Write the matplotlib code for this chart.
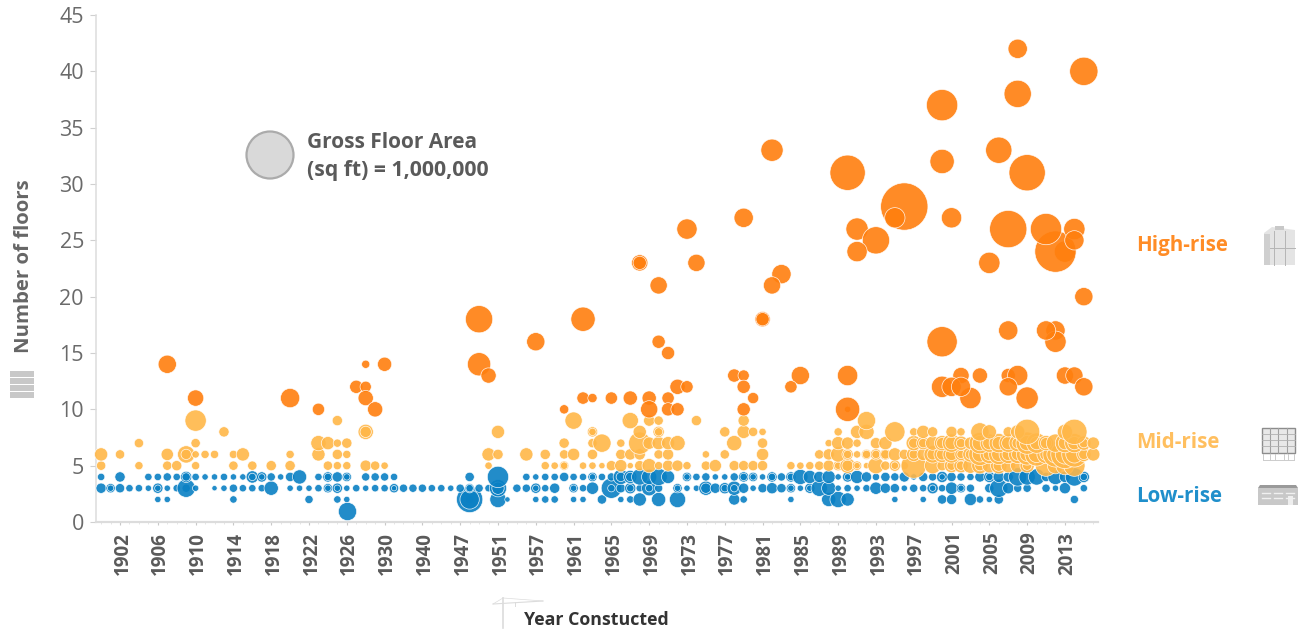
import numpy as np
import matplotlib
matplotlib.use("Agg")
import matplotlib.pyplot as plt
from matplotlib.patches import Rectangle, Circle, Polygon
from matplotlib.transforms import ScaledTranslation

plt.rcParams['font.family'] = ['Open Sans', 'DejaVu Sans']

# year categories on the x axis (only years that have buildings)
YEARS = list(range(1900, 1933)) + [1936, 1940, 1941, 1942, 1946, 1947, 1948, 1949, 1950, 1951,
                                   1952, 1954, 1956, 1957, 1958, 1959, 1960] + list(range(1961, 2017))
YEAR_LABELS = YEARS[2::4]
Y_TICKS = list(range(0, 50, 5))
LEGEND_GFA = 1000  # thousand sq ft

# low-rise, one pair of lists per floor count. gfa in thousand sq ft
LOW_1_YEAR = [1926]
LOW_1_GFA = [125]
LOW_2_YEAR = [1906, 1907, 1914, 1922, 1925, 1926, 1948, 1948, 1948, 1951, 1952, 1957, 1958, 1959, 1961, 1962,
              1964, 1966, 1967, 1968, 1970, 1972, 1978, 1979, 1984, 1988, 1989, 1990, 1995, 1998, 2000, 2001,
              2003, 2004, 2005, 2006, 2014]
LOW_2_GFA = [11, 11, 16, 21, 16, 11, 21, 271, 141, 98, 7, 11, 16, 16, 11, 11,
             28, 11, 16, 62, 73, 98, 43, 16, 11, 73, 98, 62, 11, 11, 28, 35,
             53, 16, 11, 28, 21]
LOW_3_YEAR = [1900, 1901, 1901, 1902, 1903, 1904, 1905, 1906, 1906, 1907, 1908, 1909, 1909, 1910, 1912, 1913,
              1914, 1915, 1916, 1917, 1918, 1920, 1921, 1922, 1923, 1924, 1924, 1925, 1925, 1926, 1927, 1928,
              1929, 1930, 1931, 1931, 1932, 1936, 1940, 1941, 1942, 1946, 1947, 1948, 1948, 1949, 1950, 1951,
              1951, 1954, 1956, 1957, 1957, 1958, 1959, 1961, 1961, 1962, 1963, 1965, 1965, 1966, 1967, 1967,
              1968, 1969, 1969, 1970, 1972, 1972, 1973, 1974, 1975, 1975, 1976, 1977, 1977, 1978, 1978, 1979,
              1980, 1981, 1982, 1983, 1984, 1984, 1985, 1986, 1986, 1987, 1988, 1989, 1990, 1991, 1992, 1993,
              1994, 1995, 1996, 1997, 1998, 1999, 1999, 2000, 2001, 2002, 2002, 2003, 2005, 2006, 2007, 2008,
              2009, 2011, 2012, 2013, 2015]
LOW_3_GFA = [35, 28, 11, 28, 16, 16, 11, 35, 11, 11, 16, 21, 125, 11, 7, 11,
             21, 16, 16, 16, 73, 11, 11, 11, 16, 28, 11, 35, 11, 11, 16, 11,
             16, 16, 28, 7, 21, 21, 21, 16, 16, 11, 21, 28, 16, 21, 16, 111,
             53, 21, 21, 35, 11, 16, 35, 28, 11, 16, 53, 157, 16, 28, 43, 16,
             16, 85, 16, 21, 28, 11, 11, 11, 73, 35, 35, 43, 16, 73, 16, 35,
             11, 28, 43, 28, 28, 11, 11, 35, 11, 98, 73, 11, 16, 11, 16, 53,
             35, 28, 11, 21, 16, 43, 11, 16, 53, 28, 11, 21, 28, 125, 43, 21,
             21, 21, 11, 43, 16]
LOW_4_YEAR = [1900, 1902, 1905, 1906, 1907, 1908, 1909, 1909, 1910, 1911, 1912, 1913, 1914, 1915, 1916, 1916,
              1917, 1917, 1918, 1919, 1920, 1921, 1923, 1924, 1924, 1925, 1926, 1926, 1928, 1929, 1930, 1931,
              1948, 1951, 1956, 1957, 1958, 1959, 1960, 1961, 1962, 1963, 1963, 1964, 1965, 1966, 1966, 1967,
              1967, 1968, 1969, 1970, 1971, 1973, 1973, 1974, 1975, 1976, 1977, 1978, 1979, 1979, 1980, 1980,
              1981, 1982, 1982, 1983, 1984, 1984, 1985, 1986, 1987, 1988, 1989, 1990, 1990, 1991, 1992, 1993,
              1994, 1995, 1996, 1997, 1998, 1999, 2000, 2000, 2001, 2002, 2003, 2004, 2005, 2005, 2006, 2007,
              2008, 2009, 2010, 2011, 2012, 2013, 2014, 2015, 2015]
LOW_4_GFA = [16, 35, 16, 16, 21, 16, 43, 21, 16, 11, 11, 16, 11, 11, 53, 16,
             35, 11, 21, 11, 28, 73, 16, 35, 16, 35, 28, 11, 21, 21, 21, 16,
             28, 174, 16, 11, 16, 16, 28, 16, 16, 28, 11, 16, 21, 85, 28, 62,
             28, 98, 85, 111, 62, 28, 11, 16, 21, 11, 11, 21, 35, 16, 28, 11,
             11, 35, 16, 21, 35, 16, 85, 62, 43, 62, 11, 35, 11, 62, 35, 16,
             28, 21, 35, 11, 28, 21, 43, 11, 28, 21, 16, 35, 43, 16, 43, 35,
             125, 98, 98, 28, 85, 43, 125, 43, 16]

# mid-rise
MID_5_YEAR = [1900, 1904, 1907, 1908, 1910, 1914, 1916, 1918, 1920, 1924, 1925, 1926, 1928, 1929, 1930, 1950,
              1958, 1959, 1960, 1960, 1962, 1963, 1964, 1965, 1966, 1967, 1968, 1969, 1970, 1971, 1972, 1973,
              1975, 1976, 1978, 1979, 1980, 1981, 1984, 1985, 1986, 1987, 1988, 1989, 1989, 1990, 1990, 1991,
              1991, 1992, 1993, 1994, 1995, 1995, 1996, 1997, 1999, 2000, 2001, 2001, 2002, 2002, 2003, 2004,
              2004, 2005, 2006, 2006, 2007, 2008, 2009, 2009, 2011, 2012, 2013, 2014]
MID_5_GFA = [28, 21, 28, 35, 21, 28, 28, 35, 35, 28, 21, 21, 43, 28, 16, 16,
             21, 16, 28, 16, 16, 16, 11, 35, 53, 11, 35, 73, 21, 43, 43, 21,
             28, 53, 35, 35, 35, 35, 21, 16, 21, 28, 43, 35, 16, 85, 43, 28,
             11, 11, 98, 28, 43, 16, 21, 250, 98, 35, 73, 28, 73, 28, 85, 98,
             35, 73, 98, 43, 73, 73, 73, 28, 174, 98, 125, 174]
MID_6_YEAR = [1900, 1902, 1907, 1909, 1909, 1910, 1911, 1912, 1914, 1915, 1920, 1923, 1925, 1926, 1950, 1951,
              1956, 1958, 1960, 1961, 1963, 1966, 1967, 1968, 1970, 1971, 1975, 1977, 1981, 1987, 1988, 1989,
              1990, 1990, 1991, 1992, 1992, 1993, 1993, 1994, 1994, 1995, 1996, 1997, 1997, 1998, 1999, 1999,
              2000, 2000, 2001, 2001, 2002, 2002, 2003, 2003, 2004, 2004, 2005, 2005, 2006, 2006, 2007, 2007,
              2008, 2008, 2009, 2009, 2010, 2010, 2011, 2011, 2012, 2012, 2013, 2013, 2014, 2014, 2015, 2015,
              2016]
MID_6_GFA = [62, 28, 53, 111, 35, 16, 21, 21, 21, 62, 21, 62, 35, 21, 62, 35,
             62, 35, 28, 53, 35, 35, 43, 43, 28, 43, 16, 28, 53, 28, 43, 85,
             43, 21, 16, 35, 21, 43, 21, 43, 28, 62, 35, 73, 28, 53, 111, 43,
             98, 43, 111, 53, 53, 21, 85, 35, 191, 85, 125, 53, 157, 73, 125, 53,
             125, 53, 174, 73, 210, 98, 125, 53, 250, 111, 316, 141, 250, 111, 73, 35,
             62]
MID_7_YEAR = [1904, 1910, 1923, 1924, 1925, 1926, 1960, 1963, 1964, 1966, 1968, 1969, 1970, 1971, 1972, 1978,
              1981, 1988, 1989, 1990, 1991, 1993, 1994, 1997, 1997, 1998, 1998, 1999, 2000, 2000, 2001, 2001,
              2002, 2002, 2003, 2004, 2004, 2005, 2005, 2006, 2006, 2007, 2007, 2008, 2008, 2009, 2009, 2010,
              2010, 2011, 2011, 2012, 2013, 2013, 2014, 2014, 2015, 2015, 2016]
MID_7_GFA = [28, 28, 85, 62, 21, 35, 35, 28, 125, 21, 191, 53, 62, 62, 85, 85,
             35, 16, 62, 53, 21, 43, 62, 85, 35, 62, 28, 73, 85, 43, 125, 62,
             73, 28, 53, 174, 85, 125, 62, 141, 62, 125, 62, 111, 43, 191, 85, 157,
             62, 85, 43, 125, 141, 62, 141, 62, 73, 28, 53]
MID_8_YEAR = [1913, 1928, 1928, 1951, 1963, 1963, 1968, 1970, 1970, 1977, 1979, 1980, 1981, 1989, 1991, 1992,
              1995, 1997, 1998, 1999, 2001, 2002, 2004, 2005, 2007, 2008, 2009, 2013, 2014]
MID_8_GFA = [35, 85, 43, 62, 35, 16, 62, 43, 21, 35, 62, 28, 16, 21, 62, 85,
             157, 21, 62, 35, 43, 21, 125, 73, 35, 73, 250, 85, 250]
MID_9_YEAR = [1910, 1925, 1961, 1967, 1969, 1970, 1974, 1979, 1992]
MID_9_GFA = [174, 35, 111, 98, 43, 28, 35, 43, 125]

# high-rise
HIGH_YEAR = [1907, 1910, 1920, 1923, 1927, 1928, 1928, 1929, 1928, 1930, 1949, 1949, 1950, 1957, 1962, 1960,
             1962, 1963, 1965, 1967, 1969, 1969, 1971, 1971, 1972, 1972, 1973, 1982, 1979, 1973, 1974, 1968,
             1968, 1970, 1983, 1982, 1981, 1981, 1970, 1971, 1978, 1979, 1979, 1980, 1979, 1985, 1984, 2008,
             2015, 2008, 2000, 2006, 2000, 2009, 1990, 1996, 1995, 2001, 1991, 1993, 1991, 2007, 2013, 2012,
             2011, 2014, 2014, 2005, 2015, 2007, 2012, 2012, 2011, 2000, 1990, 1990, 1990, 2003, 2002, 2004,
             2000, 2001, 2002, 2007, 2008, 2007, 2009, 2013, 2014, 2015]
HIGH_FLOORS = [14, 11, 11, 10, 12, 12, 11, 10, 14, 14, 18, 14, 13, 16, 18, 10,
               11, 11, 11, 11, 11, 10, 11, 10, 10, 12, 12, 33, 27, 26, 23, 23,
               23, 21, 22, 21, 18, 18, 16, 15, 13, 13, 12, 11, 10, 13, 12, 42,
               40, 38, 37, 33, 32, 31, 31, 28, 27, 27, 26, 25, 24, 26, 24, 24,
               26, 26, 25, 23, 20, 17, 17, 16, 17, 16, 13, 10, 10, 11, 13, 13,
               12, 12, 12, 13, 13, 12, 11, 13, 13, 12]
HIGH_GFA = [125, 98, 141, 53, 62, 43, 85, 85, 21, 73, 293, 210, 85, 125, 230, 28,
            53, 28, 53, 73, 73, 111, 53, 62, 62, 85, 53, 191, 141, 157, 111, 98,
            62, 111, 141, 111, 85, 62, 62, 62, 62, 43, 62, 43, 62, 125, 53, 141,
            316, 293, 391, 271, 230, 532, 502, 918, 157, 157, 191, 293, 157, 562, 174, 694,
            391, 174, 141, 174, 125, 141, 141, 174, 141, 365, 157, 11, 230, 174, 98, 85,
            174, 141, 141, 73, 157, 125, 191, 111, 111, 125]

CLASS_COLORS = {"low": "#0a80c4", "mid": "#ffb748", "high": "#ff7f0e"}

fig = plt.figure(figsize=(13.02, 6.32), dpi=100)
fig.patch.set_facecolor("white")

# axes box in pixels: left 96.4, right 1098, top 15, bottom 522
ax = fig.add_axes([96.4 / 1302, (632 - 522) / 632, (1098 - 96.4) / 1302, (522 - 15) / 632])


def gfa_to_s(gfa):
    # area scale: 1,000,000 sq ft is a 48 px circle, plus a bit for the white edge
    d_px = 48 * np.sqrt(np.asarray(gfa) / LEGEND_GFA) + 1.3
    return (d_px * 0.72) ** 2


def draw(years, floors, gfa, color):
    xs = [YEARS.index(y) for y in years]
    ax.scatter(xs, floors, s=gfa_to_s(gfa), color=color, alpha=0.9,
               edgecolors="white", linewidths=0.5, clip_on=False, zorder=3)


draw(LOW_1_YEAR, [1] * len(LOW_1_YEAR), LOW_1_GFA, CLASS_COLORS["low"])
draw(LOW_2_YEAR, [2] * len(LOW_2_YEAR), LOW_2_GFA, CLASS_COLORS["low"])
draw(LOW_3_YEAR, [3] * len(LOW_3_YEAR), LOW_3_GFA, CLASS_COLORS["low"])
draw(LOW_4_YEAR, [4] * len(LOW_4_YEAR), LOW_4_GFA, CLASS_COLORS["low"])
draw(MID_5_YEAR, [5] * len(MID_5_YEAR), MID_5_GFA, CLASS_COLORS["mid"])
draw(MID_6_YEAR, [6] * len(MID_6_YEAR), MID_6_GFA, CLASS_COLORS["mid"])
draw(MID_7_YEAR, [7] * len(MID_7_YEAR), MID_7_GFA, CLASS_COLORS["mid"])
draw(MID_8_YEAR, [8] * len(MID_8_YEAR), MID_8_GFA, CLASS_COLORS["mid"])
draw(MID_9_YEAR, [9] * len(MID_9_YEAR), MID_9_GFA, CLASS_COLORS["mid"])
draw(HIGH_YEAR, HIGH_FLOORS, HIGH_GFA, CLASS_COLORS["high"])

ax.set_xlim(-0.5, len(YEARS) - 0.5)
ax.set_ylim(0, 45)
for side in ("top", "right"):
    ax.spines[side].set_visible(False)
ax.spines["left"].set_color("#dcdcdc")
ax.spines["left"].set_linewidth(1.1)
ax.spines["bottom"].set_color("#dcdcdc")
ax.spines["bottom"].set_linewidth(1.6)

ax.set_yticks(Y_TICKS)
ax.tick_params(axis="y", length=4, width=0.8, color="#d0d0d0", labelsize=15.5, labelcolor="#6a6a6a", pad=5)
ax.set_xticks([YEARS.index(y) for y in YEAR_LABELS])
ax.set_xticklabels(YEAR_LABELS, rotation=90, fontweight="bold")
ax.set_xticks(range(len(YEARS)), minor=True)
ax.tick_params(axis="x", which="major", length=2.5, width=0.8, color="#c8c8c8",
               labelsize=13.5, labelcolor="#5a5a5a", pad=4.5)
ax.tick_params(axis="x", which="minor", length=1.5, width=0.6, color="#e2e2e2")
# labels sit a little right of their tick
offset = ScaledTranslation(2.5 / 100, 0, fig.dpi_scale_trans)
for lab in ax.get_xticklabels():
    lab.set_transform(lab.get_transform() + offset)

# overlay in pixel coordinates for annotations and icons
ov = fig.add_axes([0, 0, 1, 1], facecolor="none", zorder=5)
ov.set_xlim(0, 1302)
ov.set_ylim(632, 0)
ov.axis("off")

ov.text(24, 266, "Number of floors", rotation=90, ha="center", va="center",
        fontsize=14.7, fontweight="bold", color="#666666")
for y0 in (371, 378, 385, 392):
    ov.add_patch(Rectangle((10, y0), 24, 6, facecolor="#c8c8c8", edgecolor="none"))

# size legend
ov.add_patch(Circle((270, 155), 23.5, facecolor="#d9d9d9", edgecolor="#ababab", linewidth=1.6))
ov.text(307, 143, "Gross Floor Area", ha="left", va="center", fontsize=15, fontweight="bold", color="#5a5a5a")
ov.text(307, 170.5, "(sq ft) = 1,000,000", ha="left", va="center", fontsize=15.3, fontweight="bold", color="#5a5a5a")

# class labels
ov.text(1136, 245, "High-rise", ha="left", va="center", fontsize=14.8, fontweight="bold", color="#ff8c26")
ov.text(1136, 443, "Mid-rise", ha="left", va="center", fontsize=14.8, fontweight="bold", color="#ffbf5f")
ov.text(1136, 496, "Low-rise", ha="left", va="center", fontsize=14.8, fontweight="bold", color="#1f8fcb")

ov.text(524, 620, "Year Constucted", ha="left", va="center", fontsize=12.8, fontweight="bold", color="#333333")

# high-rise icon
ov.add_patch(Polygon([(1264, 233), (1272, 227), (1295, 230), (1295, 265), (1264, 265)],
                     facecolor="#e4e4e4", edgecolor="none"))
ov.add_patch(Rectangle((1264, 234), 6, 31, facecolor="#cfcfcf", edgecolor="none"))
ov.add_patch(Rectangle((1275, 226), 9, 4, facecolor="#c8c8c8", edgecolor="none"))
for x0 in (1274, 1285):
    ov.plot([x0, x0], [231, 265], color="#b5b5b5", lw=0.7)
ov.plot([1270, 1295], [248, 248], color="#b5b5b5", lw=0.7)

# mid-rise icon
ov.add_patch(Rectangle((1262, 428), 33, 25, facecolor="#e8e8e8", edgecolor="#8c8c8c", linewidth=1))
for x0 in (1270, 1278, 1287):
    ov.plot([x0, x0], [428, 453], color="#a0a0a0", lw=0.8)
for y0 in (434, 440, 446):
    ov.plot([1262, 1295], [y0, y0], color="#b0b0b0", lw=0.6)
ov.plot([1263, 1294], [460, 460], color="#cccccc", lw=0.7)
for x0 in (1263, 1270, 1275, 1284, 1288, 1294):
    ov.plot([x0, x0], [454, 460], color="#cccccc", lw=0.7)

# low-rise icon
ov.add_patch(Rectangle((1258, 488), 40, 17, facecolor="#c8c8c8", edgecolor="none"))
ov.add_patch(Polygon([(1258, 488), (1260, 485), (1296, 485), (1298, 488)], facecolor="#9a9a9a", edgecolor="none"))
for x0 in (1262, 1274, 1286):
    for y0 in (493, 498):
        ov.plot([x0, x0 + 8], [y0, y0], color="#f0f0f0", lw=1)
ov.add_patch(Rectangle((1288, 496), 5, 9, facecolor="#eeeeee", edgecolor="none"))

# crane
crane_col = "#dcdcdc"
ov.plot([503, 503], [598, 628], color=crane_col, lw=1.2)
ov.plot([493, 543], [604, 601], color=crane_col, lw=0.8)
ov.plot([493, 503], [604, 598], color=crane_col, lw=0.5)
ov.plot([503, 543], [598, 601], color=crane_col, lw=0.5)
ov.plot([515, 515], [602, 606], color=crane_col, lw=0.7)

fig.savefig("out.png", dpi=100, facecolor="white")
plt.close(fig)
